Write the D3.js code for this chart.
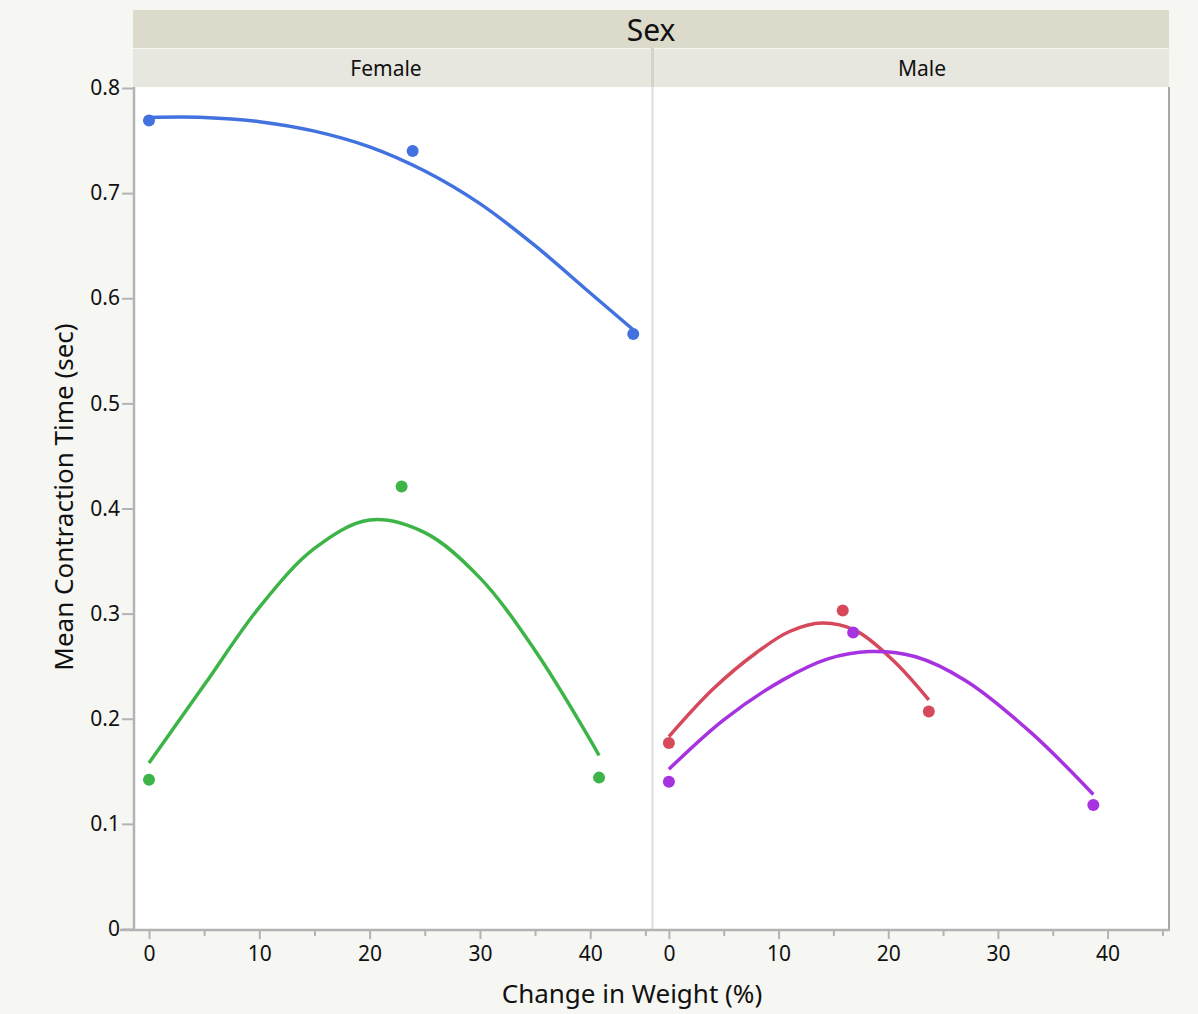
<!DOCTYPE html>
<html>
<head>
<meta charset="utf-8">
<script src="https://cdn.jsdelivr.net/npm/d3@7"></script>
<style>
  html, body { margin: 0; padding: 0; background: #f6f6f2; }
  svg { display: block; }
  text { font-family: "Noto Sans", "Open Sans", sans-serif; fill: #111; }
  .tick text { font-size: 21px; font-family: "Noto Sans", "Open Sans", sans-serif; fill: #111; }
</style>
</head>
<body>
<svg id="chart" width="1198" height="1014"></svg>
<script>
// ---------- data ----------
const panels = ["Female", "Male"];
const yTicks = [0, 0.1, 0.2, 0.3, 0.4, 0.5, 0.6, 0.7, 0.8];
const xMajorTicks = [0, 10, 20, 30, 40];
const xMinorTicks = [5, 15, 25, 35, 45];

// observed means (points)
const femaleBlueX = [0, 23.9, 43.9];
const femaleBlueY = [0.769, 0.740, 0.566];
const femaleGreenX = [0, 22.9, 40.8];
const femaleGreenY = [0.142, 0.421, 0.144];
const maleRedX = [0, 15.85, 23.7];
const maleRedY = [0.177, 0.303, 0.207];
const malePurpleX = [0, 16.8, 38.7];
const malePurpleY = [0.140, 0.282, 0.118];

// smoother curves
const femaleBlueCurveX = [0, 5, 10, 15, 20, 25, 30, 35, 40, 43.9];
const femaleBlueCurveY = [0.772, 0.772, 0.768, 0.759, 0.744, 0.721, 0.690, 0.650, 0.605, 0.570];
const femaleGreenCurveX = [0, 5, 10, 15, 20, 25, 30, 35, 40, 40.8];
const femaleGreenCurveY = [0.158, 0.232, 0.306, 0.362, 0.389, 0.377, 0.334, 0.265, 0.180, 0.165];
const maleRedCurveX = [0, 4, 8, 11, 14, 17, 20.5, 23.7];
const maleRedCurveY = [0.183, 0.228, 0.263, 0.283, 0.291, 0.284, 0.255, 0.218];
const malePurpleCurveX = [0, 5, 10.4, 14.5, 18.3, 22.5, 27.1, 33, 38.7];
const malePurpleCurveY = [0.152, 0.199, 0.237, 0.257, 0.264, 0.259, 0.236, 0.187, 0.128];

const colors = { blue: "#4272df", green: "#3db447", red: "#d6495b", purple: "#a733e0" };

const series = [
  { panel: "Female", color: colors.blue, px: femaleBlueX, py: femaleBlueY, cx: femaleBlueCurveX, cy: femaleBlueCurveY },
  { panel: "Female", color: colors.green, px: femaleGreenX, py: femaleGreenY, cx: femaleGreenCurveX, cy: femaleGreenCurveY },
  { panel: "Male", color: colors.red, px: maleRedX, py: maleRedY, cx: maleRedCurveX, cy: maleRedCurveY },
  { panel: "Male", color: colors.purple, px: malePurpleX, py: malePurpleY, cx: malePurpleCurveX, cy: malePurpleCurveY }
];

// ---------- layout ----------
const svg = d3.select("#chart");
const plotTop = 87, plotBottom = 929;
const headerTop = 10, headerMid = 48;
const panelRanges = { Female: [133, 652], Male: [653, 1169] };
const panelLabelX = { Female: 386, Male: 922 };
const xDomain = [-1.45, 45.6];

const y = d3.scaleLinear().domain([0, 0.8]).range([plotBottom, 88]);
const xScales = {};
panels.forEach(p => { xScales[p] = d3.scaleLinear().domain(xDomain).range(panelRanges[p]); });

// outer background
svg.append("rect").attr("x", 0).attr("y", 0).attr("width", 1198).attr("height", 1014).attr("fill", "#f6f6f2");

// Sex header
svg.append("rect").attr("x", 133).attr("y", headerTop).attr("width", 1169 - 133).attr("height", headerMid - headerTop)
  .attr("fill", "#dcdacb");
svg.append("text").attr("x", 651).attr("y", 41).attr("text-anchor", "middle")
  .attr("font-size", 30).text("Sex");

// panel headers
panels.forEach(p => {
  const [a, b] = panelRanges[p];
  svg.append("rect").attr("x", a).attr("y", headerMid + 1).attr("width", b - a).attr("height", plotTop - headerMid - 1)
    .attr("fill", "#e8e7df");
  svg.append("text").attr("x", panelLabelX[p]).attr("y", 76).attr("text-anchor", "middle")
    .attr("font-size", 21).text(p);
});
svg.append("line").attr("x1", 652.5).attr("x2", 652.5).attr("y1", headerMid).attr("y2", plotTop)
  .attr("stroke", "#d4d3c8").attr("stroke-width", 3);

// plot area
svg.append("rect").attr("x", 133).attr("y", plotTop).attr("width", 1169 - 133).attr("height", plotBottom - plotTop)
  .attr("fill", "#ffffff");
svg.append("line").attr("x1", 652.5).attr("x2", 652.5).attr("y1", plotTop).attr("y2", plotBottom)
  .attr("stroke", "#dddddd").attr("stroke-width", 2);
svg.append("line").attr("x1", 1169).attr("x2", 1169).attr("y1", plotTop).attr("y2", plotBottom + 1)
  .attr("stroke", "#a8a8a8").attr("stroke-width", 2);

// y axis
const yAxis = d3.axisLeft(y).tickValues(yTicks).tickFormat(d => d === 0 ? "0" : d3.format(".1f")(d))
  .tickSize(12).tickPadding(2);
const gy = svg.append("g").attr("transform", "translate(134,0)").call(yAxis);
gy.attr("font-size", null).attr("font-family", null);
gy.select(".domain").attr("stroke", "#b3b3b3").attr("stroke-width", 2.5).attr("d", `M0,${plotTop}V${plotBottom}`);
gy.selectAll(".tick line").attr("stroke", "#b3b3b3").attr("stroke-width", 2);

// x axes
svg.append("line").attr("x1", 120).attr("x2", 1170).attr("y1", plotBottom + 1).attr("y2", plotBottom + 1)
  .attr("stroke", "#b3b3b3").attr("stroke-width", 2.5);
panels.forEach(p => {
  const x = xScales[p];
  const g = svg.append("g").attr("transform", `translate(0,${plotBottom + 1})`);
  const ax = d3.axisBottom(x).tickValues(xMajorTicks).tickFormat(d3.format("d")).tickSize(9).tickPadding(7);
  g.call(ax);
  g.attr("font-size", null).attr("font-family", null);
  g.select(".domain").remove();
  g.selectAll(".tick line").attr("stroke", "#b3b3b3").attr("stroke-width", 2);
  const gm = svg.append("g").attr("transform", `translate(0,${plotBottom + 1})`);
  gm.call(d3.axisBottom(x).tickValues(xMinorTicks).tickFormat("").tickSize(6));
  gm.select(".domain").remove();
  gm.selectAll(".tick line").attr("stroke", "#b3b3b3").attr("stroke-width", 2);
});

// axis titles
svg.append("text").attr("x", 632).attr("y", 1003).attr("text-anchor", "middle")
  .attr("font-size", 26).text("Change in Weight (%)");
svg.append("text").attr("transform", "translate(73,497) rotate(-90)").attr("text-anchor", "middle")
  .attr("font-size", 26).text("Mean Contraction Time (sec)");

// curves and points
const line = d3.line().curve(d3.curveCatmullRom.alpha(0.5));
series.forEach(s => {
  const x = xScales[s.panel];
  const pts = s.cx.map((v, i) => [x(v), y(s.cy[i])]);
  svg.append("path").attr("d", line(pts)).attr("fill", "none")
    .attr("stroke", s.color).attr("stroke-width", 3.5).attr("stroke-linecap", "butt");
  svg.selectAll(null).data(s.px.map((v, i) => ({ x: v, y: s.py[i] }))).enter()
    .append("circle").attr("cx", d => x(d.x)).attr("cy", d => y(d.y)).attr("r", 6)
    .attr("fill", s.color);
});
</script>
</body>
</html>
